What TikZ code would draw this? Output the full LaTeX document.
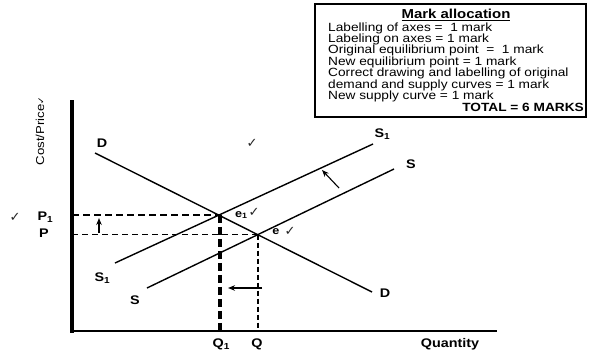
\documentclass[tikz,border=0pt]{standalone}
\usepackage{fontspec}
\setmainfont{Liberation Sans}[FakeStretch=1.15]
\newfontfamily\chkfont{DejaVu Sans}
\usetikzlibrary{arrows.meta}
\tikzset{
  curve/.style={line width=1.4pt},
  lbl/.style={font=\fontsize{12.5}{14}\selectfont\bfseries, inner sep=0pt},
  boxtxt/.style={font=\fontsize{11.9}{12}\selectfont, inner sep=0pt, anchor=base west},
  tick/.style={font=\fontsize{13}{14}\chkfont, text=black!85, inner sep=0pt},
  shiftarrow/.style={line width=1.1pt, -{Stealth[length=7pt,width=5.5pt]}},
}
\begin{document}
\begin{tikzpicture}[x=1pt,y=-1pt]
\path[use as bounding box, fill=white] (0,0) rectangle (589,354);
% mark allocation box
\draw[line width=2pt] (315,4) rectangle (586,117);
\node[font=\fontsize{13}{14}\selectfont\bfseries, inner sep=0pt, anchor=base] (title) at (456,18.3) {\underline{Mark allocation}};
\node[boxtxt] (l1) at (328,31) {Labelling of axes =\ \ 1 mark};
\node[boxtxt] (l2) at (328,42.4) {Labeling on axes = 1 mark};
\node[boxtxt] (l3) at (328,53.8) {Original equilibrium point\ \ =\ \ 1 mark};
\node[boxtxt] (l4) at (328,65.2) {New equilibrium point = 1 mark};
\node[boxtxt] (l5) at (328,76.6) {Correct drawing and labelling of original};
\node[boxtxt] (l6) at (328,88) {demand and supply curves = 1 mark};
\node[boxtxt] (l7) at (328,99.4) {New supply curve = 1 mark};
\node[boxtxt, anchor=base east, font=\fontsize{11.9}{12}\selectfont\bfseries] (l8) at (584,111) {TOTAL = 6 MARKS};
% axes
\coordinate (o) at (72,331);
\coordinate (ytop) at (72,100);
\coordinate (xend) at (497,331);
\draw[line width=3.5pt] (ytop) -- (72,332.5);
\draw[line width=2.5pt] (70.25,331) -- (xend);
\node[inner sep=0pt, font=\fontsize{11.5}{12}\selectfont, rotate=90] (ylab) at (40,131) {Cost/Price{\chkfont\fontsize{9}{9}\selectfont ✓}};
\node[lbl] (xlab) at (450,344) {Quantity};
% curves
\coordinate (d0) at (95,153);
\coordinate (d1) at (372,292);
\coordinate (s10) at (115,263);
\coordinate (s11) at (373,144);
\coordinate (s0) at (147,288);
\coordinate (s1) at (394,169);
\draw[curve] (d0) -- (d1);
\draw[curve] (s10) -- (s11);
\draw[curve] (s0) -- (s1);
\coordinate (e1) at (220,214.8);
\coordinate (e) at (258,234.6);
% dashed guides
\draw[line width=2pt, dash pattern=on 7pt off 4pt] (72,214.8) -- (e1);
\draw[line width=1.1pt, dash pattern=on 6pt off 4pt] (72,234.6) -- (e);
\draw[line width=4pt, dash pattern=on 8pt off 4pt] (e1) -- (220,330);
\draw[line width=1.2pt, dash pattern=on 5pt off 3pt] (e) -- (258,330);
% shift arrows
\coordinate (ua0) at (99,233);
\coordinate (ua1) at (99,218);
\draw[shiftarrow] (ua0) -- (ua1);
\coordinate (la0) at (262,288);
\coordinate (la1) at (228,288);
\draw[shiftarrow] (la0) -- (la1);
\coordinate (sa0) at (339,188);
\coordinate (sa1) at (322,170);
\draw[shiftarrow] (sa0) -- (sa1);
% labels
\node[lbl] (Dtop) at (102,143) {D};
\node[lbl] (Dbot) at (385,293) {D};
\node[lbl] (S1top) at (382,134) {S$_{\mathbf 1}$};
\node[lbl] (S1bot) at (102,278) {S$_{\mathbf 1}$};
\node[lbl] (Stop) at (411,164) {S};
\node[lbl] (Sbot) at (135,300) {S};
\node[lbl] (P1) at (45,217) {P$_{\mathbf 1}$};
\node[lbl] (P) at (44,233) {P};
\node[lbl] (Q1) at (221,344) {Q$_{\mathbf 1}$};
\node[lbl] (Q) at (257,344) {Q};
\node[lbl, font=\fontsize{11}{12}\selectfont\bfseries] (e1l) at (241,215) {e$_{\mathbf 1}$};
\node[lbl, font=\fontsize{11}{12}\selectfont\bfseries] (el) at (276,232) {e};
% ticks
\node[tick] (t1) at (254,212) {✓};
\node[tick] (t2) at (290,231) {✓};
\node[tick] (t3) at (252,143) {✓};
\node[tick] (t4) at (15,217) {✓};
\end{tikzpicture}
\end{document}
